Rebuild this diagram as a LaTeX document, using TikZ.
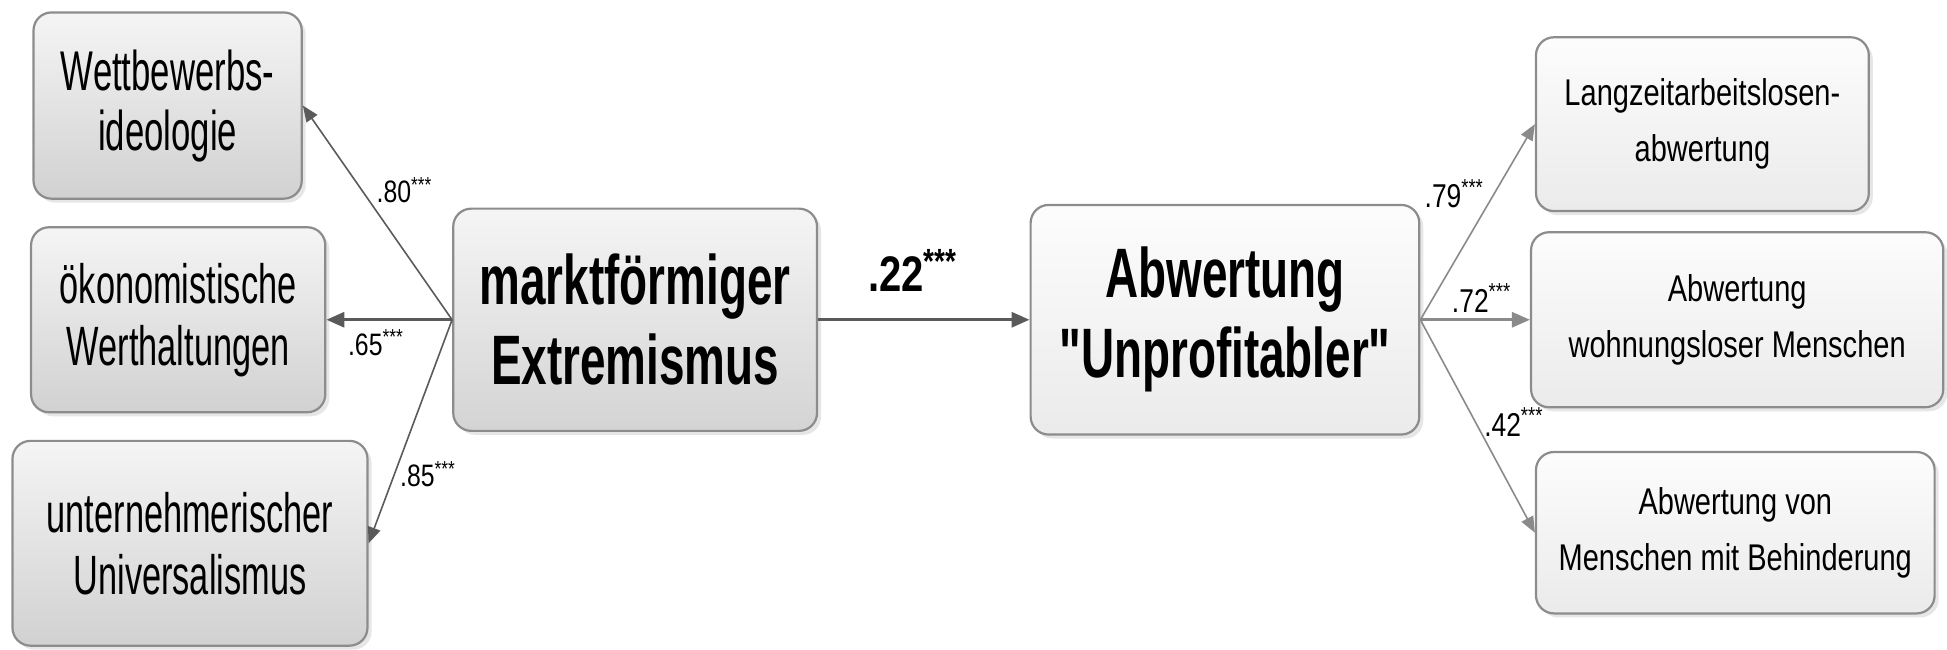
\documentclass[tikz,border=0pt]{standalone}
\usepackage{fontspec}
\setmainfont{Liberation Sans}[FakeStretch=0.8, Ligatures=TeXOff]
\newfontfamily\leftcond{Liberation Sans}[FakeStretch=0.62, Ligatures=TeXOff]
\newfontfamily\boldcond{Liberation Sans}[FakeStretch=0.655, Ligatures=TeXOff]
\newfontfamily\rightcond{Liberation Sans}[FakeStretch=0.78, Ligatures=TeXOff]
\usetikzlibrary{arrows.meta,shadows}
\definecolor{edgegray}{HTML}{8C8C8C}
\definecolor{arrowdark}{HTML}{5A5A5A}
\definecolor{arrowlight}{HTML}{8A8A8A}
\begin{document}
\begin{tikzpicture}[x=0.6208pt,y=-0.6208pt,
  box/.style={draw=edgegray, line width=1.1pt, rounded corners=9pt, align=center, inner sep=0pt,
    drop shadow={shadow xshift=2pt, shadow yshift=-2pt, opacity=0.22, fill=black!45}},
  leftbox/.style={box, top color=black!4, bottom color=black!18},
  midbox/.style={box, top color=black!4, bottom color=black!17, font=\boldcond\fontsize{35}{40}\selectfont\bfseries},
  abox/.style={box, top color=black!1, bottom color=black!8, font=\boldcond\fontsize{35}{40}\selectfont\bfseries},
  rightbox/.style={box, top color=black!1, bottom color=black!8, font=\rightcond\fontsize{18.6}{28}\selectfont},
  lfont/.style={font=\leftcond\fontsize{28}{30}\selectfont},
  ofont/.style={font=\leftcond\fontsize{27.7}{31}\selectfont},
  ufont/.style={font=\leftcond\fontsize{27.7}{31}\selectfont},
  thickdark/.style={draw=arrowdark, line width=1.6pt, -{Triangle[length=9pt,width=7.5pt]}},
  thindark/.style={draw=arrowdark, line width=0.8pt, -{Triangle[length=8pt,width=6.5pt]}},
  thicklight/.style={draw=arrowlight, line width=1.4pt, -{Triangle[length=9pt,width=7.5pt]}},
  thinlight/.style={draw=arrowlight, line width=0.8pt, -{Triangle[length=8pt,width=6.5pt]}},
  coef/.style={font=\fontsize{15.5}{18}\selectfont, inner sep=0pt, anchor=west},
  coefb/.style={font=\fontsize{16.5}{18}\selectfont, inner sep=0pt, anchor=west}
]
\useasboundingbox (0,0) rectangle (1568,523);

% left indicator boxes
\node[leftbox, lfont, minimum width=134.1pt, minimum height=93.1pt] (W) at (135,85) {Wettbewerbs-\\ideologie};
\node[leftbox, ofont, minimum width=147.1pt, minimum height=92.5pt] (O) at (143.5,257.5) {ökonomistische\\Werthaltungen};
\node[leftbox, ufont, minimum width=177.5pt, minimum height=102.4pt] (U) at (153,437.5) {unternehmerischer\\Universalismus};

% central constructs
\node[midbox, minimum width=181.9pt, minimum height=111.1pt] (M) at (511.5,257.5) {marktförmiger\\Extremismus};
\node[abox, minimum width=194.3pt, minimum height=114.8pt] (A) at (986.5,257.5) {Abwertung\\"Unprofitabler"};

% right indicator boxes
\node[rightbox, minimum width=166.4pt, minimum height=86.9pt] (L) at (1371,100) {Langzeitarbeitslosen-\\abwertung};
\node[rightbox, minimum width=206.1pt, minimum height=87.5pt] (H) at (1399,257.5) {Abwertung\\wohnungsloser Menschen};
\node[rightbox, minimum width=199.3pt, minimum height=80.7pt] (B) at (1397.5,429) {Abwertung von\\Menschen mit Behinderung};

% connectors
\draw[thindark] (M.west) -- (W.east);
\draw[thickdark] (M.west) -- (O.east);
\draw[thindark] (M.west) -- (U.east);
\draw[thickdark] (M.east) -- (A.west);
\draw[thinlight] (A.east) -- (L.west);
\draw[thicklight] (A.east) -- (H.west);
\draw[thinlight] (A.east) -- (B.west);

% coefficients
\node[coef] (c80) at (303,153) {.80\textsuperscript{***}};
\node[coef] (c65) at (280,276) {.65\textsuperscript{***}};
\node[coef] (c85) at (322,382) {.85\textsuperscript{***}};
\node[font=\fontsize{25}{28}\selectfont\bfseries, inner sep=0pt, anchor=west] (c22) at (699,218) {.22\textsuperscript{***}};
\node[coefb] (c79) at (1147,156) {.79\textsuperscript{***}};
\node[coefb] (c72) at (1169,240) {.72\textsuperscript{***}};
\node[coefb] (c42) at (1195,340) {.42\textsuperscript{***}};
\end{tikzpicture}
\end{document}
